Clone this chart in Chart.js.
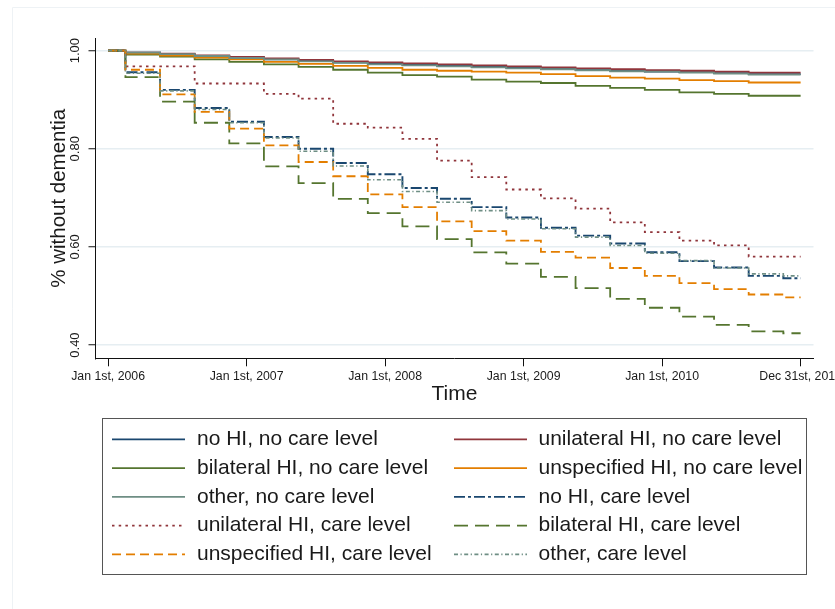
<!DOCTYPE html>
<html>
<head>
<meta charset="utf-8">
<script src="https://cdn.jsdelivr.net/npm/chart.js@4"></script>
<style>
  html, body { margin: 0; padding: 0; background: #ffffff; }
  #wrap { width: 835px; height: 609px; position: relative; }
</style>
</head>
<body>
<div id="wrap"><canvas id="c" width="835" height="609"></canvas></div>
<script>
// ---- data (time in years since Jan 1st, 2006) ----
const times = [0, 0.125, 0.375, 0.625, 0.875, 1.125, 1.375, 1.625, 1.875, 2.125, 2.375,
               2.625, 2.875, 3.125, 3.375, 3.625, 3.875, 4.125, 4.375, 4.625, 4.875, 5];

const seriesNames = [
  "no HI, no care level", "unilateral HI, no care level",
  "bilateral HI, no care level", "unspecified HI, no care level",
  "other, no care level", "no HI, care level",
  "unilateral HI, care level", "bilateral HI, care level",
  "unspecified HI, care level", "other, care level"
];

const noHI_noCare        = [1, .996, .993, .989, .986, .982, .979, .976, .973, .971, .969, .967, .965, .963, .961, .959, .957, .956, .954, .952, .952, .952];
const unilateral_noCare  = [1, .996, .994, .990, .987, .984, .981, .978, .976, .974, .972, .970, .968, .966, .964, .962, .960, .959, .957, .955, .955, .955];
const bilateral_noCare   = [1, .992, .988, .982, .977, .972, .967, .961, .955, .950, .947, .941, .937, .934, .928, .924, .920, .915, .912, .908, .908, .908];
const unspecified_noCare = [1, .994, .990, .986, .982, .977, .973, .969, .965, .961, .959, .957, .955, .952, .948, .945, .943, .940, .938, .935, .935, .935];
const other_noCare       = [1, .996, .993, .989, .985, .982, .978, .975, .972, .970, .968, .966, .964, .962, .960, .958, .957, .955, .953, .951, .951, .951];
const noHI_care          = [1, .956, .920, .883, .855, .824, .800, .771, .748, .720, .698, .681, .660, .639, .623, .607, .589, .571, .558, .541, .536, .536];
const unilateral_care    = [1, .968, .968, .933, .933, .912, .902, .851, .843, .820, .776, .742, .717, .699, .678, .650, .630, .613, .603, .580, .580, .580];
const bilateral_care     = [1, .946, .896, .853, .811, .764, .730, .698, .669, .642, .616, .589, .566, .539, .516, .494, .476, .458, .441, .428, .424, .424];
const unspecified_care   = [1, .961, .911, .875, .841, .807, .773, .744, .707, .681, .652, .632, .613, .590, .578, .557, .541, .526, .514, .503, .497, .497];
const other_care         = [1, .954, .918, .880, .853, .822, .795, .765, .737, .713, .691, .674, .657, .637, .620, .603, .587, .572, .557, .545, .541, .541];

const xTickValues = [0, 1, 2, 3, 4, 5];
const xTickLabels = ["Jan 1st, 2006", "Jan 1st, 2007", "Jan 1st, 2008", "Jan 1st, 2009", "Jan 1st, 2010", "Dec 31st, 2010"];
const yTickValues = [0.40, 0.60, 0.80, 1.00];

// ---- styles ----
const allSeries = [noHI_noCare, unilateral_noCare, bilateral_noCare, unspecified_noCare, other_noCare,
                   noHI_care, unilateral_care, bilateral_care, unspecified_care, other_care];
const colors = ["#1a476f", "#90353b", "#55752f", "#e37e00", "#6e8e84",
                "#1a476f", "#90353b", "#55752f", "#e37e00", "#6e8e84"];
const dashes = [[], [], [], [], [],
                [11, 3, 3, 3], [2.5, 4.2], [14, 7], [9, 5], [4, 2.5, 1.2, 2.5]];
const widths = [1.8, 1.8, 1.8, 1.8, 1.8, 1.9, 1.8, 1.8, 1.8, 1.6];

const datasets = allSeries.map((vals, i) => ({
  label: seriesNames[i],
  data: vals.map((v, k) => ({ x: times[k], y: v })),
  borderColor: colors[i],
  backgroundColor: colors[i],
  borderWidth: widths[i],
  borderDash: dashes[i],
  stepped: 'before',
  pointRadius: 0,
  fill: false,
  order: 10 - i
}));

const FONT = "'Liberation Sans', Arial, Helvetica, sans-serif";
const TXT = "#1a1a1a";

const framePlugin = {
  id: 'frame',
  beforeDraw(chart) {
    const ctx = chart.ctx;
    ctx.save();
    ctx.fillStyle = '#ffffff';
    ctx.fillRect(0, 0, chart.width, chart.height);
    ctx.strokeStyle = '#eef2f5';
    ctx.lineWidth = 1;
    ctx.beginPath();
    ctx.moveTo(12.5, chart.height);
    ctx.lineTo(12.5, 7.5);
    ctx.lineTo(chart.width, 7.5);
    ctx.stroke();
    ctx.restore();
  }
};

const legendPlugin = {
  id: 'customLegend',
  afterDraw(chart) {
    const ctx = chart.ctx;
    ctx.save();
    ctx.strokeStyle = '#555555';
    ctx.lineWidth = 1;
    ctx.setLineDash([]);
    ctx.strokeRect(102.5, 418.5, 704, 156);
    const rowY = [439.4, 468.2, 496.9, 525.7, 554.4];
    const cols = [{x0: 112, x1: 185, tx: 197}, {x0: 454, x1: 527, tx: 538.5}];
    ctx.font = "21px " + FONT;
    ctx.textBaseline = 'middle';
    ctx.textAlign = 'left';
    chart.data.datasets.forEach((ds, i) => {
      const col = cols[i % 2];
      const y = rowY[Math.floor(i / 2)];
      ctx.strokeStyle = ds.borderColor;
      ctx.lineWidth = ds.borderWidth;
      ctx.setLineDash(ds.borderDash || []);
      ctx.beginPath();
      ctx.moveTo(col.x0, y);
      ctx.lineTo(col.x1, y);
      ctx.stroke();
      ctx.setLineDash([]);
      ctx.fillStyle = TXT;
      ctx.fillText(ds.label, col.tx, y);
    });
    ctx.restore();
  }
};

new Chart(document.getElementById('c'), {
  type: 'line',
  data: { datasets },
  plugins: [framePlugin, legendPlugin],
  options: {
    responsive: false,
    animation: false,
    devicePixelRatio: 1,
    layout: { padding: { top: 38.3, right: 21.5, bottom: 200.7, left: 0 } },
    plugins: { legend: { display: false }, tooltip: { enabled: false } },
    scales: {
      x: {
        type: 'linear',
        min: -0.091,
        max: 5.093,
        afterBuildTicks(scale) { scale.ticks = xTickValues.map(v => ({ value: v })); },
        afterFit(scale) {
          scale.height = 50;
          scale.paddingLeft = 0; scale.paddingRight = 0;
          scale.paddingTop = 0; scale.paddingBottom = 0;
        },
        ticks: {
          autoSkip: false, maxRotation: 0, minRotation: 0, padding: 3.2,
          color: TXT, font: { family: FONT, size: 12.3 },
          callback(v) { const i = xTickValues.indexOf(v); return i >= 0 ? xTickLabels[i] : ''; }
        },
        grid: { display: true, drawOnChartArea: false, drawTicks: true, tickLength: 8, tickColor: '#111', tickWidth: 1 },
        border: { display: true, color: '#111', width: 1 },
        title: { display: true, text: 'Time', color: TXT, font: { family: FONT, size: 21 }, padding: { top: 0, bottom: 1.5 } }
      },
      y: {
        type: 'linear',
        min: 0.373,
        max: 1.0251,
        afterBuildTicks(scale) { scale.ticks = yTickValues.map(v => ({ value: v })); },
        afterFit(scale) {
          scale.width = 95.5;
          scale.paddingLeft = 0; scale.paddingRight = 0;
          scale.paddingTop = 0; scale.paddingBottom = 0;
        },
        ticks: {
          autoSkip: false, minRotation: 90, maxRotation: 90, crossAlign: 'center', padding: 0,
          color: TXT, font: { family: FONT, size: 13 },
          callback(v) { return Number(v).toFixed(2); }
        },
        grid: { display: true, drawOnChartArea: true, color: '#e6eef2', lineWidth: 1.5, drawTicks: true, tickLength: 7, tickColor: '#111', tickWidth: 1 },
        border: { display: true, color: '#111', width: 1 },
        title: { display: true, text: '% without dementia', color: TXT, font: { family: FONT, size: 20.5 }, padding: { top: 46.6, bottom: 0 } }
      }
    }
  }
});
</script>
</body>
</html>
